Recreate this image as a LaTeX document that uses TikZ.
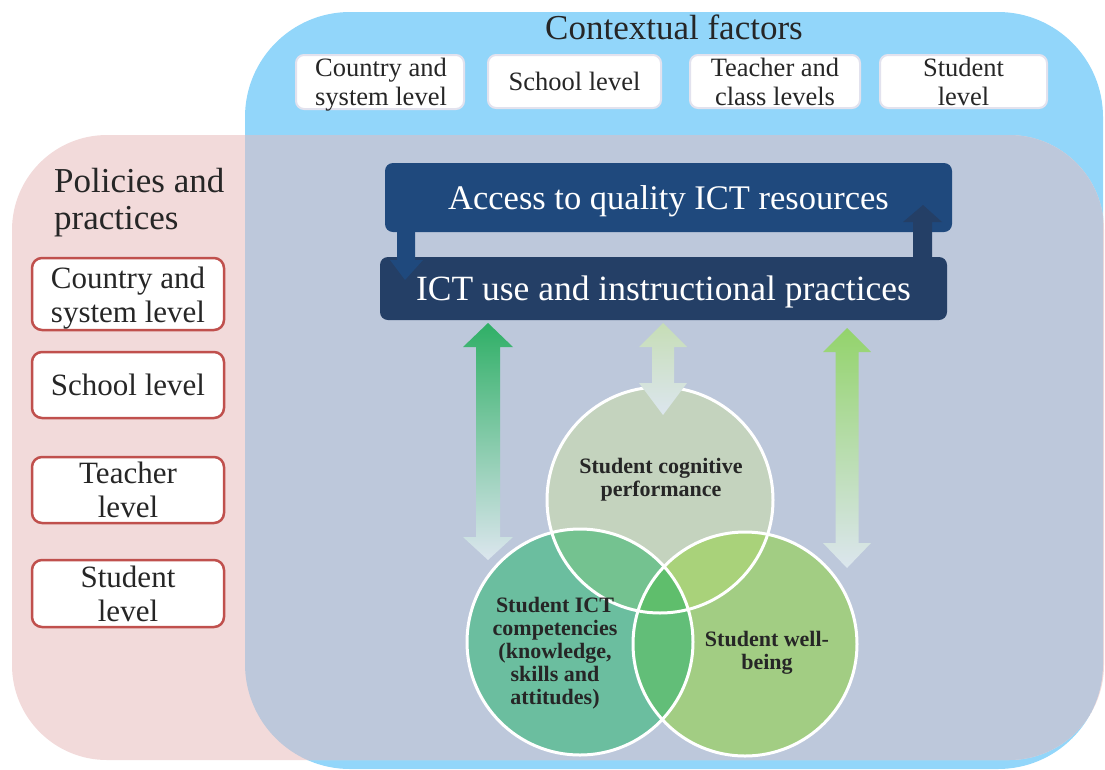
\documentclass[tikz,border=0pt]{standalone}
\usepackage{fontspec}
\setmainfont{Liberation Serif}
\definecolor{blueBG}{HTML}{92D6FA}
\definecolor{pinkBG}{HTML}{F2DADA}
\definecolor{greyBG}{HTML}{BDC8DB}
\definecolor{navyA}{HTML}{1F497D}
\definecolor{navyB}{HTML}{243F66}
\definecolor{redB}{HTML}{C0504D}
\definecolor{haloC}{HTML}{E2E2EE}
\definecolor{textC}{HTML}{262626}
\definecolor{cTop}{HTML}{C4D3BE}
\definecolor{cLeft}{HTML}{6BBE9F}
\definecolor{cRight}{HTML}{A2CD83}
\definecolor{cLT}{HTML}{74C290}
\definecolor{cRT}{HTML}{A9D27A}
\definecolor{cLR}{HTML}{62BE78}
\definecolor{cLRT}{HTML}{5FBE6C}
\definecolor{arrLight}{HTML}{DCE6EE}
\definecolor{arrG1}{HTML}{2FAF66}
\definecolor{arrG1m}{HTML}{A6D8C4}
\definecolor{arrG2}{HTML}{C6DDB6}
\definecolor{arrG3}{HTML}{93D36B}
\definecolor{arrG3m}{HTML}{C3E0B4}
\newcommand\dblarrowpath[7]{(#1,#2) -- ({#1+#7},#3) -- ({#1+#6},#3) -- ({#1+#6},#4) -- ({#1+#7},#4) -- (#1,#5) -- ({#1-#7},#4) -- ({#1-#6},#4) -- ({#1-#6},#3) -- ({#1-#7},#3) -- cycle}
\tikzset{
  topbox/.style={fill=white, draw=haloC, line width=2pt, rounded corners=8pt, align=center,
    font=\fontsize{26.5}{29}\selectfont, text=textC, inner sep=0pt},
  leftbox/.style={fill=white, draw=redB, line width=2.5pt, rounded corners=10pt, align=center,
    font=\fontsize{31}{34}\selectfont, text=textC, minimum width=192pt, inner sep=0pt},
  darkbox/.style={rounded corners=8pt, text=white, minimum width=567pt, inner sep=0pt,
    text height=23.5pt, text depth=0pt},
  plaintext/.style={align=center, text=textC, inner sep=0pt},
  circtext/.style={align=center, font=\bfseries\fontsize{22}{23}\selectfont, text=textC, inner sep=0pt},
  ring/.style={draw=white, line width=3pt},
}
\begin{document}
\begin{tikzpicture}[x=1pt,y=-1pt]
\useasboundingbox (0,0) rectangle (1105,769);
% panels
\fill[blueBG, rounded corners=105pt] (245,12) rectangle (1103,769);
\fill[pinkBG, rounded corners=95pt] (12,135) rectangle (1104,760);
\begin{scope}
  \clip[rounded corners=105pt] (245,12) rectangle (1103,769);
  \fill[greyBG, rounded corners=95pt] (12,135) rectangle (1104,760);
\end{scope}
% contextual factors
\node[plaintext, font=\fontsize{35}{38}\selectfont] (ctx) at (674,27) {Contextual factors};
\node[topbox, minimum width=168pt, minimum height=54pt] (c1) at (380,82) {};
\node[plaintext, font=\fontsize{26.5}{29}\selectfont] (c1t) at (381,85) {Country and\\system level};
\node[topbox, minimum width=173pt, minimum height=53pt] (c2) at (574.5,81.5) {School level};
\node[topbox, minimum width=170pt, minimum height=53pt] (c3) at (775,81.5) {Teacher and\\class levels};
\node[topbox, minimum width=167pt, minimum height=53pt] (c4) at (963.5,81.5) {Student\\level};
% policies and practices
\node[font=\fontsize{35}{37}\selectfont, text=textC, align=left, anchor=west, inner sep=0pt] (pol) at (54,203) {Policies and\\practices};
\node[leftbox, minimum height=72pt] (p1) at (128,294) {};
\node[plaintext, font=\fontsize{31}{34}\selectfont] (p1t) at (128,298) {Country and\\system level};
\node[leftbox, minimum height=66pt] (p2) at (128,385) {School level};
\node[leftbox, minimum height=66pt] (p3) at (128,490) {Teacher\\level};
\node[leftbox, minimum height=67pt] (p4) at (128,593.5) {Student\\level};
% dark boxes
\node[darkbox, fill=navyA, minimum height=69pt, font=\fontsize{34.5}{38}\selectfont] (acc) at (668.5,197.5) {Access to quality ICT resources};
\node[darkbox, fill=navyB, minimum height=63pt, font=\fontsize{35.5}{38}\selectfont, text height=24pt] (use) at (663.5,288.5) {ICT use and instructional practices};
\fill[navyA] (397,226) -- (415,226) -- (415,260) -- (423,260) -- (405,280) -- (390,260) -- (397,260) -- cycle;
\fill[navyB] (913,262) -- (932,262) -- (932,222) -- (942,222) -- (923,205) -- (903,222) -- (913,222) -- cycle;
% circles
\coordinate (T) at (660,500);
\coordinate (L) at (580,642);
\coordinate (R) at (745,644);
\fill[cTop] (T) circle[radius=113pt];
\fill[cLeft] (L) circle[radius=113pt];
\fill[cRight] (R) circle[radius=112pt];
\begin{scope}
  \clip (T) circle[radius=113pt];
  \fill[cLT] (L) circle[radius=113pt];
  \fill[cRT] (R) circle[radius=112pt];
\end{scope}
\begin{scope}
  \clip (L) circle[radius=113pt];
  \fill[cLR] (R) circle[radius=112pt];
\end{scope}
\begin{scope}
  \clip (T) circle[radius=113pt];
  \clip (L) circle[radius=113pt];
  \fill[cLRT] (R) circle[radius=112pt];
\end{scope}
\draw[ring] (T) circle[radius=113pt];
\draw[ring] (L) circle[radius=113pt];
\draw[ring] (R) circle[radius=112pt];
\node[circtext] (cog) at (661,480) {Student cognitive\\performance};
\node[circtext] (comp) at (555,653) {Student ICT\\competencies\\(knowledge,\\skills and\\attitudes)};
\node[circtext] (well) at (767,653) {Student well-\\being};
% double arrows
\shade[top color=arrG1, middle color=arrG1m, bottom color=arrLight] \dblarrowpath{488}{323}{347}{537}{560}{12}{25};
\shade[top color=arrG2, bottom color=arrLight] \dblarrowpath{663}{323}{347}{383}{415}{11}{24};
\shade[top color=arrG3, middle color=arrG3m, bottom color=arrLight] \dblarrowpath{847}{328}{352}{543}{568}{11.5}{24};
\end{tikzpicture}
\end{document}
